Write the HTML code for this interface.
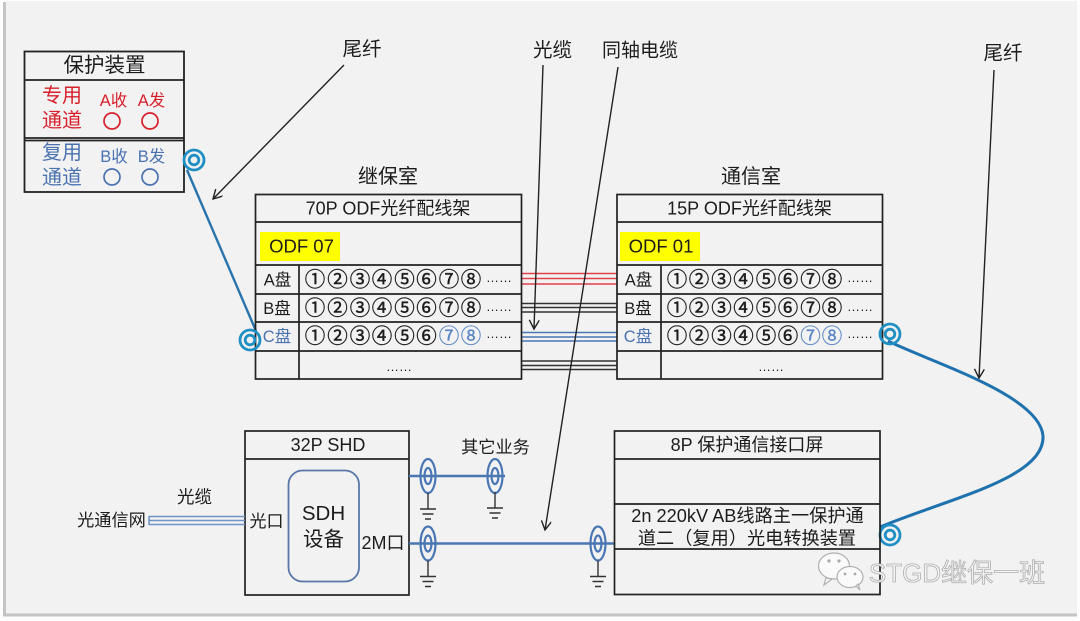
<!DOCTYPE html>
<html><head><meta charset="utf-8"><style>
html,body{margin:0;padding:0;background:#fff;width:1080px;height:621px;overflow:hidden}
svg{display:block;filter:blur(.35px)}
text{font-family:"Liberation Sans","Noto Sans CJK SC",sans-serif;fill:#1c1c1c;text-anchor:middle}
.r{fill:#d8202c}.b{fill:#4a72b0}
.n{font-size:20.500px;stroke:#1c1c1c;stroke-width:.4px}
.nb{font-size:20.500px;fill:#5a86c4;stroke:#5a86c4;stroke-width:.3px}
</style></head><body>
<svg width="1080" height="621" viewBox="0 0 1080 621" xmlns="http://www.w3.org/2000/svg">
<defs>
<marker id="ah" markerWidth="12" markerHeight="12" refX="10" refY="5" orient="auto" markerUnits="userSpaceOnUse"><path d="M1 0L10 5L1 10" fill="none" stroke="#222" stroke-width="1.400"/></marker>
<g id="gnd" stroke="#333" stroke-width="1.400" fill="none"><path d="M0 17V33M-8 33H8M-5.500 38H5.500M-3 43H3"/></g>
<g id="bnc" fill="none" stroke="#4a76b4" stroke-width="2.200"><ellipse rx="7.500" ry="17"/><ellipse rx="3.500" ry="8"/></g>
<g id="ring" fill="none" stroke="#1f8fc4"><circle r="10" stroke-width="2.800"/><circle r="4.800" stroke-width="2.800"/></g>
</defs>
<rect x="0" y="0" width="1080" height="621" fill="#fdfdfd"/>
<rect x="3" y="2" width="1074" height="614.500" fill="#c4c4c4"/>
<rect x="6" y="1" width="1071" height="612.500" fill="#f2f2f2"/>

<!-- protection box -->
<g fill="none" stroke="#222" stroke-width="1.800">
<rect x="24.500" y="51.500" width="159.500" height="140.500"/>
<path d="M24 80H184M24 138H184M24 140.500H184"/>
</g>
<text x="104.500" y="72" font-size="20.500">保护装置</text>
<text class="r" x="62" y="102" font-size="20">专用</text>
<text class="r" x="62" y="127" font-size="20">通道</text>
<text class="r" x="113.500" y="106" font-size="16.500">A收</text>
<text class="r" x="151.500" y="106" font-size="16.500">A发</text>
<circle cx="112" cy="121" r="8" fill="none" stroke="#d8202c" stroke-width="1.700"/>
<circle cx="150" cy="121" r="8" fill="none" stroke="#d8202c" stroke-width="1.700"/>
<text class="b" x="62" y="159" font-size="20">复用</text>
<text class="b" x="62" y="184" font-size="20">通道</text>
<text class="b" x="114" y="162" font-size="16.500">B收</text>
<text class="b" x="151.500" y="162" font-size="16.500">B发</text>
<circle cx="112" cy="177" r="8" fill="none" stroke="#4a72b0" stroke-width="1.700"/>
<circle cx="150" cy="177" r="8" fill="none" stroke="#4a72b0" stroke-width="1.700"/>

<!-- tail fiber line left -->
<path d="M187 170L256 331" stroke="#2a74ab" stroke-width="2.400" fill="none"/>
<use href="#ring" x="194" y="160"/>

<!-- connecting cables -->
<g fill="none" stroke-width="1.500">
<path stroke="#e0404a" d="M521 273.500H617M521 278.500H617M521 284H617"/>
<path stroke="#333" d="M521 303.500H617M521 307.500H617M521 312H617"/>
<path stroke="#4a76b4" d="M521 332.500H617M521 337H617M521 341H617"/>
<path stroke="#333" d="M521 361H617M521 365.500H617M521 369.500H617"/>
</g>

<!-- ODF left -->
<text x="388" y="183" font-size="20">继保室</text>
<g fill="none" stroke="#222" stroke-width="1.700">
<rect x="255.500" y="194.500" width="266" height="184.500"/>
<path d="M255 222H521M255 265H521M255 294H521M255 322H521M255 351H521M299 265V379"/>
</g>
<text x="388" y="214.500" font-size="18">70P ODF光纤配线架</text>
<rect x="260" y="232" width="80" height="29" fill="#ffff00"/>
<text x="301.500" y="252.500" font-size="18.500">ODF 07</text>
<text x="277.500" y="285.500" font-size="16.500">A盘</text>
<text x="277" y="314" font-size="16.500">B盘</text>
<text class="b" x="277" y="342" font-size="16.500">C盘</text>
<text class="n" x="315 337.500 360 382 404.500 426.500 449 471" y="286.500">①②③④⑤⑥⑦⑧</text>
<text class="n" x="315 337.500 360 382 404.500 426.500 449 471" y="315">①②③④⑤⑥⑦⑧</text>
<text class="n" x="315 337.500 360 382 404.500 426.500" y="343">①②③④⑤⑥</text>
<text class="nb" x="449 471" y="343">⑦⑧</text>
<text x="499" y="282" font-size="13">……</text>
<text x="499" y="311" font-size="13">……</text>
<text x="499" y="338" font-size="13">……</text>
<text x="399" y="371" font-size="13">……</text>
<use href="#ring" x="250" y="340"/>

<!-- ODF right -->
<text x="751" y="183" font-size="20">通信室</text>
<g fill="none" stroke="#222" stroke-width="1.700">
<rect x="617" y="194.500" width="265.500" height="184.500"/>
<path d="M617 222H882M617 265H882M617 294H882M617 322H882M617 351H882M661 265V379"/>
</g>
<text x="749.500" y="214.500" font-size="18">15P ODF光纤配线架</text>
<rect x="620" y="232" width="80" height="29" fill="#ffff00"/>
<text x="661" y="252.500" font-size="18.500">ODF 01</text>
<text x="638.500" y="285.500" font-size="16.500">A盘</text>
<text x="638" y="314" font-size="16.500">B盘</text>
<text class="b" x="638" y="342" font-size="16.500">C盘</text>
<text class="n" x="677 699 721.500 743.500 766 788 810.500 832" y="286.500">①②③④⑤⑥⑦⑧</text>
<text class="n" x="677 699 721.500 743.500 766 788 810.500 832" y="315">①②③④⑤⑥⑦⑧</text>
<text class="n" x="677 699 721.500 743.500 766 788" y="343">①②③④⑤⑥</text>
<text class="nb" x="810.500 832" y="343">⑦⑧</text>
<text x="860" y="282" font-size="13">……</text>
<text x="860" y="311" font-size="13">……</text>
<text x="860" y="338" font-size="13">……</text>
<text x="771" y="371" font-size="13">……</text>

<!-- right tail fiber -->
<path d="M888 341C930 362 1040 395 1043 436C1045 478 950 498 880 527" fill="none" stroke="#1f72ae" stroke-width="3"/>
<use href="#ring" x="890" y="334"/>
<use href="#ring" x="890" y="535"/>

<!-- SHD -->
<g fill="none" stroke="#222" stroke-width="1.700">
<rect x="245" y="431" width="164" height="164"/>
<path d="M245 459H409"/>
</g>
<text x="328" y="451" font-size="18">32P SHD</text>
<rect x="288.500" y="470.500" width="70.500" height="111" rx="14" fill="#f2f2f2" stroke="#5877a8" stroke-width="1.800"/>
<text x="323.500" y="520" font-size="20.500">SDH</text>
<text x="323.500" y="546" font-size="20.500">设备</text>
<text x="266.500" y="527" font-size="17">光口</text>
<text x="383" y="549" font-size="18">2M口</text>
<text x="111.500" y="526" font-size="17.200">光通信网</text>
<text x="194.500" y="503" font-size="17.500">光缆</text>
<g fill="none" stroke="#6e93c4" stroke-width="1.500"><path d="M149 516.500H245M149 520.500H245M149 524.500H245M149 516V525"/></g>

<!-- BNC lines -->
<path d="M409 476H505M409 543.500H614" fill="none" stroke="#4a76b4" stroke-width="2.500"/>
<use href="#bnc" x="428" y="476"/><use href="#bnc" x="495" y="476"/>
<use href="#bnc" x="428" y="543.500"/><use href="#bnc" x="598" y="543.500"/>
<use href="#gnd" x="428" y="476"/><use href="#gnd" x="495" y="475"/>
<use href="#gnd" x="428" y="543.500"/><use href="#gnd" x="598" y="543.500"/>
<text x="495.500" y="453" font-size="17.200">其它业务</text>

<!-- 8P box -->
<g fill="none" stroke="#222" stroke-width="1.700">
<rect x="614.500" y="431" width="265.500" height="163.500"/>
<path d="M614 459H880M614 504H880M614 549H880"/>
</g>
<text x="747" y="451" font-size="18">8P 保护通信接口屏</text>
<text x="747.500" y="522" font-size="18.200">2n 220kV AB线路主一保护通</text>
<text x="747" y="544.500" font-size="18.200">道二（复用）光电转换装置</text>

<!-- annotations -->
<text x="362" y="55.500" font-size="19.500">尾纤</text>
<text x="552.500" y="56.500" font-size="19.500">光缆</text>
<text x="640" y="56.500" font-size="19">同轴电缆</text>
<text x="1003" y="59.500" font-size="19.500">尾纤</text>
<g stroke="#222" stroke-width="1.400" fill="none">
<path d="M344 65L213 199" marker-end="url(#ah)"/>
<path d="M543 65L534 329" marker-end="url(#ah)"/>
<path d="M618 67L545 530" marker-end="url(#ah)"/>
<path d="M994 70L979 378" marker-end="url(#ah)"/>
</g>

<!-- watermark -->
<g fill="#fafafa" stroke="#b0b0b0" stroke-width="1.200">
<ellipse cx="834" cy="566" rx="15.500" ry="13"/>
<path d="M826 578L824 585L832 579Z"/>
<ellipse cx="850" cy="577" rx="13" ry="10.500"/>
<path d="M856 586L860 590L858 584Z"/>
</g>
<g fill="#a8a8a8"><circle cx="829" cy="561" r="1.600"/><circle cx="839" cy="561" r="1.600"/><circle cx="845" cy="574" r="1.400"/><circle cx="855" cy="574" r="1.400"/></g>
<text x="957" y="582" font-size="26" style="fill:#f4f4f4;stroke:#b0b0b0;stroke-width:.8px">STGD继保一班</text>
</svg>
</body></html>
